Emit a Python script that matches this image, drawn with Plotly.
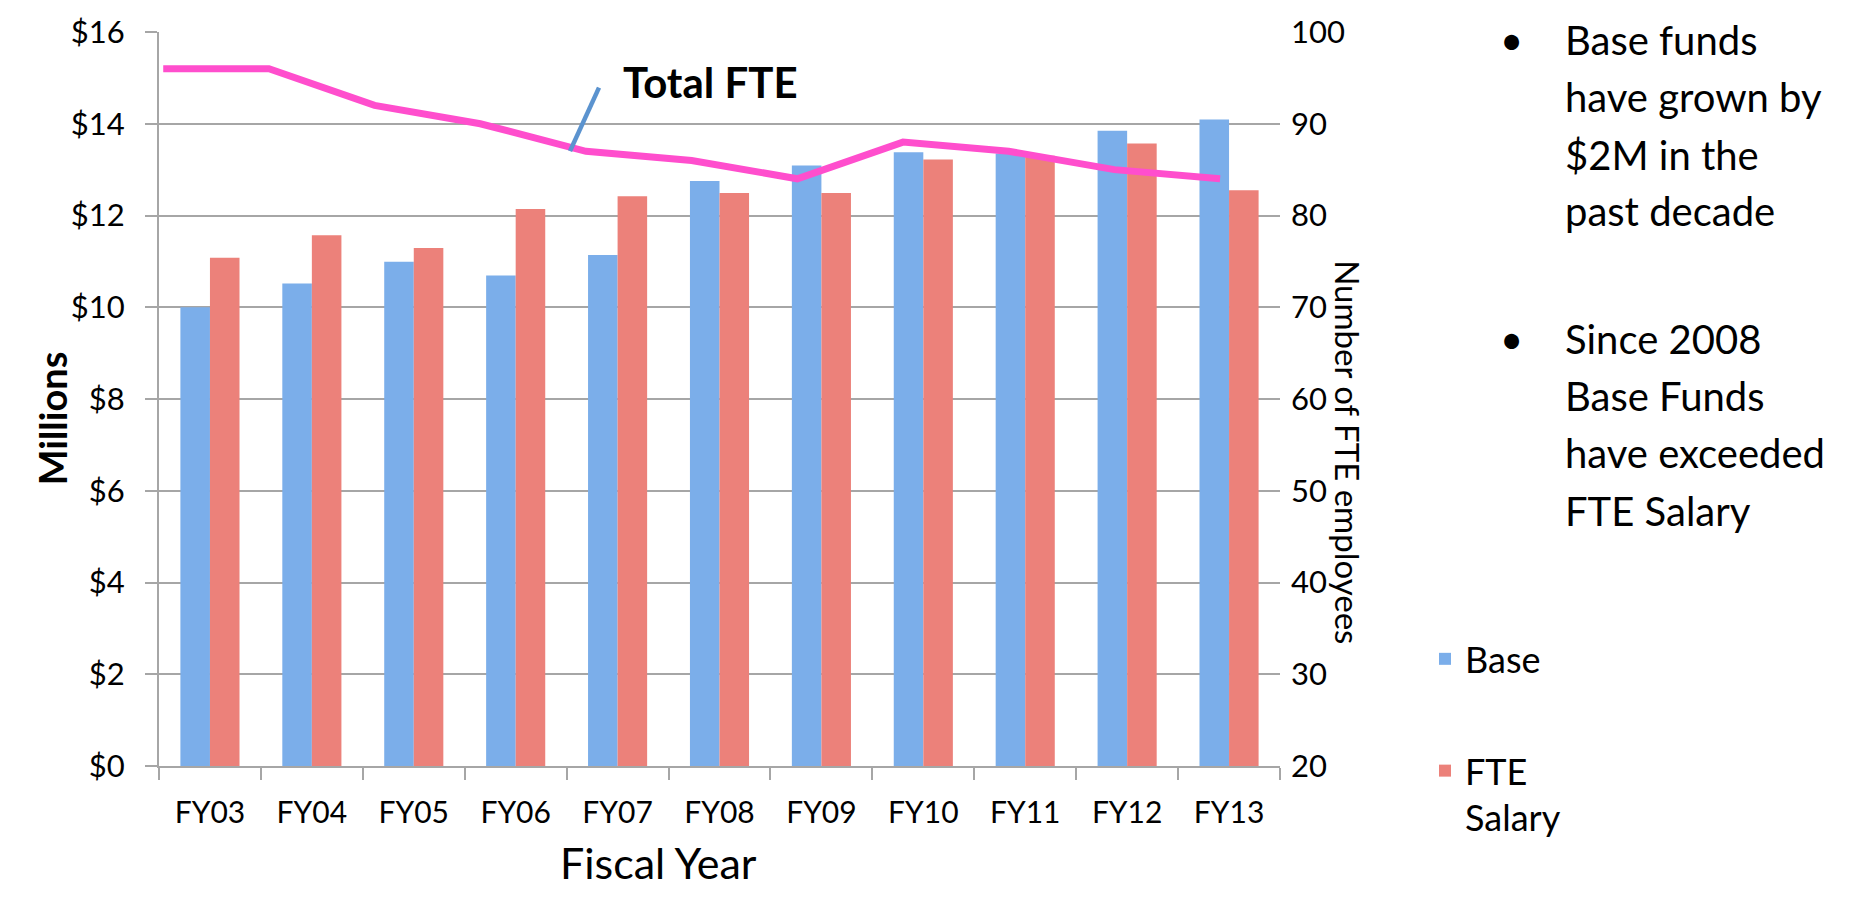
import plotly.graph_objects as go

years = ["FY03", "FY04", "FY05", "FY06", "FY07", "FY08", "FY09", "FY10", "FY11", "FY12", "FY13"]
base_funds = [10.0, 10.52, 10.99, 10.69, 11.14, 12.75, 13.09, 13.38, 13.35, 13.85, 14.09]
fte_salary = [11.08, 11.57, 11.29, 12.14, 12.42, 12.49, 12.49, 13.22, 13.3, 13.57, 12.55]
total_fte = [96, 96, 92, 90, 87, 86, 84, 88, 87, 85, 84]

left_ticks = [0, 2, 4, 6, 8, 10, 12, 14, 16]
left_labels = ["$0", "$2", "$4", "$6", "$8", "$10", "$12", "$14", "$16"]
right_ticks = [20, 30, 40, 50, 60, 70, 80, 90, 100]

bullet1 = ["Base funds", "have grown by", "$2M in the", "past decade"]
bullet2 = ["Since 2008", "Base Funds", "have exceeded", "FTE Salary"]

FONT = "Lato"
W, H = 1860, 911
ML, MR, MT, MB = 159, 580, 27, 145
PW, PH = W - ML - MR, H - MT - MB


def px(x):
    return (x - ML) / PW


def py(y):
    return (H - MB - y) / PH


fig = go.Figure()
fig.add_trace(go.Bar(
    x=years, y=base_funds, name="Base", legendgroup="a",
    marker=dict(color="#7BAEEA", line=dict(width=0)),
))
fig.add_trace(go.Bar(
    x=years, y=fte_salary, name="FTE<br>Salary", legendgroup="b",
    marker=dict(color="#EC817A", line=dict(width=0)),
))
fig.add_trace(go.Scatter(
    x=years, y=total_fte, name="Total FTE", mode="lines",
    xaxis="x2", yaxis="y2", showlegend=False,
    line=dict(color="#FF4ECD", width=7),
))

annotations = [
    dict(text="Total FTE", x=px(621), y=py(77), xref="paper", yref="paper",
         xanchor="left", yanchor="middle", showarrow=False,
         font=dict(family=FONT, size=42, color="#000000", weight="bold")),
    dict(text="Millions", x=px(27), y=py(416), xref="paper", yref="paper",
         textangle=-90, showarrow=False,
         font=dict(family=FONT, size=38, color="#000000", weight="bold")),
    dict(text="Fiscal Year", x=px(658), y=py(891), xref="paper", yref="paper",
         showarrow=False, font=dict(family=FONT, size=43, color="#000000")),
    dict(text="Number of FTE employees", x=px(1370), y=py(450), xref="paper", yref="paper",
         textangle=90, showarrow=False, font=dict(family=FONT, size=33, color="#000000")),
]

for lines, ys in ((bullet1, [35, 92, 151, 207]), (bullet2, [336, 393, 451, 509])):
    annotations.append(dict(text="•", x=px(1511), y=py(ys[0]), xref="paper", yref="paper",
                            xanchor="center", yanchor="middle", showarrow=False,
                            font=dict(family=FONT, size=40, color="#000000")))
    for t, yy in zip(lines, ys):
        annotations.append(dict(text=t, x=px(1563), y=py(yy), xref="paper", yref="paper",
                                xanchor="left", yanchor="middle", showarrow=False,
                                font=dict(family=FONT, size=40, color="#000000")))

fig.update_layout(
    width=W, height=H,
    margin=dict(l=ML, r=MR, t=MT, b=MB, pad=0),
    paper_bgcolor="white", plot_bgcolor="white",
    font=dict(family=FONT, color="#000000"),
    barmode="group", bargap=0.42, bargroupgap=0,
    xaxis=dict(
        type="category", categoryorder="array", categoryarray=years,
        showgrid=False, showline=True, linecolor="#A6A6A6", linewidth=2,
        ticks="outside", tickson="boundaries", ticklen=12, tickcolor="#A6A6A6", tickwidth=2,
        tickfont=dict(family=FONT, size=30), ticklabelstandoff=19,
        zeroline=False,
    ),
    xaxis2=dict(
        type="category", overlaying="x", range=[-0.04, 10.567],
        visible=False, showgrid=False,
    ),
    yaxis=dict(
        range=[0, 16], tickmode="array", tickvals=left_ticks, ticktext=left_labels,
        showgrid=True, gridcolor="#A6A6A6", gridwidth=2,
        showline=True, linecolor="#A6A6A6", linewidth=2,
        ticks="outside", ticklen=12, tickcolor="#A6A6A6", tickwidth=2,
        tickfont=dict(family=FONT, size=31), ticklabelstandoff=14,
        zeroline=False,
    ),
    yaxis2=dict(
        range=[20, 100], tickvals=right_ticks, overlaying="y", side="right",
        showgrid=False, showline=False, ticks="",
        tickfont=dict(family=FONT, size=31), ticklabelstandoff=10,
        zeroline=False,
    ),
    legend=dict(
        x=px(1425), y=py(628), xanchor="left", yanchor="top",
        orientation="v", valign="top", tracegroupgap=62,
        font=dict(family=FONT, size=36, color="#000000"),
        bgcolor="rgba(0,0,0,0)", itemwidth=30,
    ),
    annotations=annotations,
    shapes=[dict(type="line", xref="paper", yref="paper",
                 x0=px(599), y0=py(83), x1=px(570), y1=py(147),
                 line=dict(color="#5B93CF", width=4.5))],
)

fig.write_html("out.html", config={"displayModeBar": False},
               post_script="document.body.style.margin='0';document.body.style.overflow='hidden';")
